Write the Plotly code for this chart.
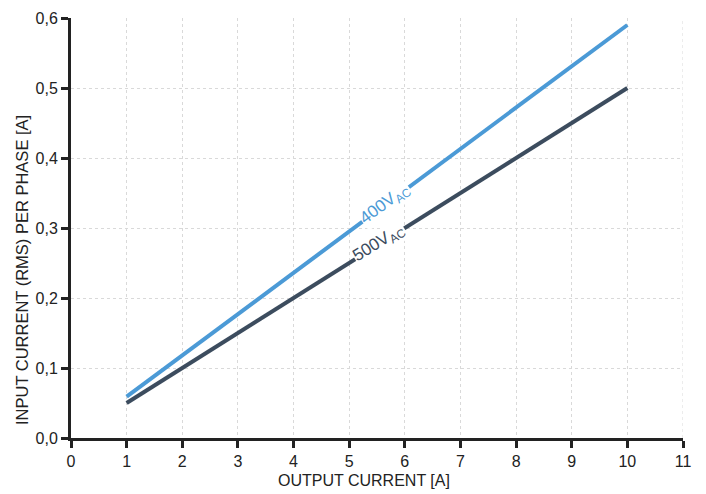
import plotly.graph_objects as go

x_400 = [1, 10]
y_400 = [0.059, 0.59]
x_500 = [1, 10]
y_500 = [0.05, 0.5]
x_ticks = list(range(0, 12))
y_ticks = [0.0, 0.1, 0.2, 0.3, 0.4, 0.5, 0.6]
y_tick_text = ["0,0", "0,1", "0,2", "0,3", "0,4", "0,5", "0,6"]

C400 = "#4b9ad6"
C500 = "#3c4c5e"
FONT = "Liberation Sans Narrow, Arial Narrow, Liberation Sans, Arial, sans-serif"

fig = go.Figure()
fig.add_trace(go.Scatter(x=x_400, y=y_400, mode="lines", line=dict(color=C400, width=4), showlegend=False))
fig.add_trace(go.Scatter(x=x_500, y=y_500, mode="lines", line=dict(color=C500, width=4), showlegend=False))

fig.add_annotation(x=5.66, y=0.334, text="400V<sub>AC</sub>", showarrow=False, textangle=-36.6,
                   font=dict(color=C400, size=17, family=FONT), bgcolor="white", borderpad=0)
fig.add_annotation(x=5.55, y=0.278, text="500V<sub>AC</sub>", showarrow=False, textangle=-32.2,
                   font=dict(color=C500, size=17, family=FONT), bgcolor="white", borderpad=0)

# axis titles as annotations (offset from plot centre like the reference)
fig.add_annotation(xref="paper", yref="paper", x=0.479, y=-0.1, text="OUTPUT CURRENT [A]",
                   showarrow=False, xanchor="center", yanchor="middle",
                   font=dict(size=16, family=FONT, color="#222222"))
fig.add_annotation(xref="paper", yref="paper", x=-0.080, y=0.4, text="INPUT CURRENT (RMS) PER PHASE [A]",
                   showarrow=False, xanchor="center", yanchor="middle", textangle=-90,
                   font=dict(size=16.5, family=FONT, color="#222222"))

fig.update_layout(
    width=706, height=494,
    margin=dict(l=63, r=31, t=10, b=64),
    plot_bgcolor="white", paper_bgcolor="white",
    font=dict(family=FONT, size=16, color="#222222"),
    xaxis=dict(range=[0, 11], tickvals=x_ticks, showgrid=True, gridcolor="#d9d9d9", griddash="dot",
               showline=True, linecolor="#222222", linewidth=3, ticks="outside", ticklen=7,
               tickwidth=2.5, tickcolor="#222222", zeroline=False, automargin=False),
    yaxis=dict(range=[0, 0.6], tickvals=y_ticks, ticktext=y_tick_text, showgrid=True, gridcolor="#d9d9d9",
               griddash="dot", showline=True, linecolor="#222222", linewidth=3, ticks="outside", ticklen=7,
               tickwidth=2.5, tickcolor="#222222", zeroline=False, automargin=False),
)
fig.add_shape(type="line", xref="x", yref="y", x0=11, x1=11, y0=0, y1=0.6, line=dict(color="#d9d9d9", width=1, dash="dot"), layer="below")
fig.write_html("out.html")
